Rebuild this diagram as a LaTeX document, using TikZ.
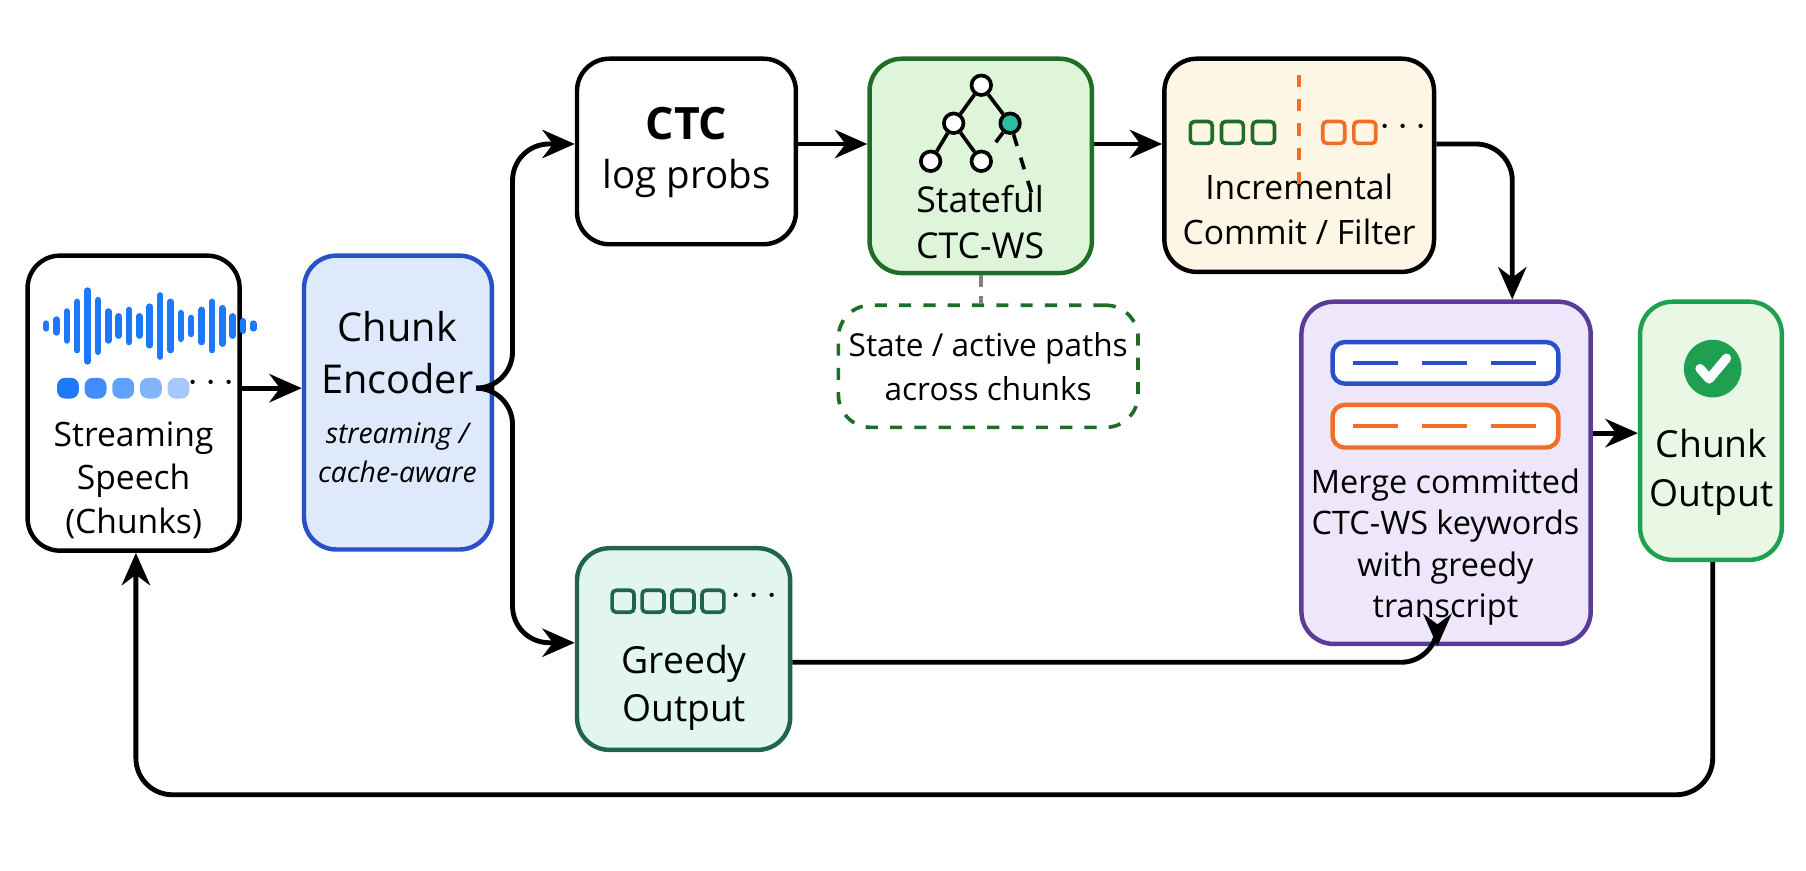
\documentclass[tikz,border=0pt]{standalone}
\usepackage{fontspec}
\setmainfont{Open Sans}
\usetikzlibrary{positioning,arrows.meta}

\definecolor{encblue}{RGB}{222,234,252}
\definecolor{encline}{RGB}{40,80,200}
\definecolor{wsgreen}{RGB}{222,245,218}
\definecolor{wsline}{RGB}{30,110,40}
\definecolor{cream}{RGB}{253,246,228}
\definecolor{lav}{RGB}{238,230,250}
\definecolor{lavline}{RGB}{90,60,150}
\definecolor{mint}{RGB}{226,245,238}
\definecolor{mintline}{RGB}{30,100,80}
\definecolor{outgreen}{RGB}{232,248,228}
\definecolor{wave}{RGB}{30,120,250}
\definecolor{korange}{RGB}{240,110,40}
\definecolor{teal}{RGB}{40,190,160}
\definecolor{chk}{RGB}{30,160,80}

\begin{document}
\begin{tikzpicture}[x=0.01cm,y=-0.01cm,
    box/.style={draw=black,line width=1.1pt,rounded corners=8pt,fill=white,align=center,inner sep=0pt},
    flow/.style={-{Stealth[length=8pt,width=7pt]},line width=1.2pt,rounded corners=9pt},
    txt/.style={font=\fontsize{8.5}{11}\selectfont,align=center},
    tiny sq/.style={draw,line width=0.9pt,rounded corners=1pt,minimum size=0.19cm,inner sep=0pt}
  ]
  \useasboundingbox (0,0) rectangle (1568,756);

  % boxes
  \node[box,minimum width=1.84cm,minimum height=2.56cm] (speech) at (116,350) {};
  \node[box,draw=encline,fill=encblue,minimum width=1.63cm,minimum height=2.55cm] (enc) at (345.5,349.5) {};
  \node[box,minimum width=1.90cm,minimum height=1.61cm] (ctc) at (596,131.5) {};
  \node[box,draw=wsline,fill=wsgreen,minimum width=1.93cm,minimum height=1.86cm] (ws) at (851.5,144) {};
  \node[box,fill=cream,minimum width=2.34cm,minimum height=1.85cm] (inc) at (1128,143.5) {};
  \node[box,draw=wsline,dashed,line width=0.9pt,fill=white,minimum width=2.60cm,minimum height=1.06cm] (state) at (858,318) {};
  \node[box,draw=lavline,fill=lav,minimum width=2.51cm,minimum height=2.97cm] (merge) at (1255.5,410.5) {};
  \node[box,draw=chk,fill=outgreen,minimum width=1.23cm,minimum height=2.24cm] (out) at (1485.5,374) {};
  \node[box,draw=mintline,fill=mint,minimum width=1.85cm,minimum height=1.75cm] (greedy) at (593.5,563.5) {};

  % texts
  \node[txt,font=\fontsize{8.3}{10.8}\selectfont] (speechlbl) at (116,417) {Streaming\\Speech\\(Chunks)};
  \node[txt,font=\fontsize{9.8}{12.8}\selectfont] (enclbl) at (345,306) {Chunk\\Encoder};
  \node[txt,font=\fontsize{7}{9.5}\selectfont\itshape] (encsub) at (345,393) {streaming /\\cache-aware};
  \node[txt,font=\fontsize{11}{13}\selectfont\bfseries] (ctclbl) at (596,107) {CTC};
  \node[txt,font=\fontsize{9.5}{12}\selectfont] (ctcsub) at (596,155) {log probs};
  \node[txt,font=\fontsize{8.8}{11.3}\selectfont] (wslbl) at (851,193) {Stateful\\CTC-WS};
  \node[txt,font=\fontsize{8.3}{11}\selectfont] (inclbl) at (1128,182) {Incremental\\Commit / Filter};
  \node[txt,font=\fontsize{7.8}{10.8}\selectfont] (statelbl) at (858,318) {State / active paths\\across chunks};
  \node[txt,font=\fontsize{8}{10.2}\selectfont] (mergelbl) at (1255,475) {Merge committed\\CTC-WS keywords\\with greedy\\transcript};
  \node[txt,font=\fontsize{9.2}{12}\selectfont] (outlbl) at (1486,410) {Chunk\\Output};
  \node[txt,font=\fontsize{9.2}{12}\selectfont] (greedylbl) at (594,597) {Greedy\\Output};

  % waveform
  \foreach \x/\h in {0/3,9/8,18/18,27/30,36/44,45/32,54/18,63/12,72/20,81/12,90/24,99/38,108/30,117/16,126/10,135/20,144/30,153/22,162/12,171/6,180/3}
    \draw[wave,line width=1.6pt,line cap=round] (40+\x,283-\h*0.7) -- (40+\x,283+\h*0.7);
  % chunk blocks
  \foreach \i/\c in {0/100,1/85,2/70,3/55,4/40}
    \node[fill=wave!\c!white,rounded corners=2pt,minimum width=0.19cm,minimum height=0.18cm,inner sep=0pt] (blk\i) at (59+\i*24,337) {};
  \node[font=\bfseries] (blkdots) at (183,333) {$\cdots$};

  % search tree icon
  \node[circle,draw,line width=0.9pt,fill=white,minimum size=0.17cm,inner sep=0pt] (t0) at (852,74) {};
  \node[circle,draw,line width=0.9pt,fill=white,minimum size=0.17cm,inner sep=0pt] (t1) at (828,107) {};
  \node[circle,draw,line width=0.9pt,fill=teal,minimum size=0.17cm,inner sep=0pt] (t2) at (877,107) {};
  \node[circle,draw,line width=0.9pt,fill=white,minimum size=0.17cm,inner sep=0pt] (t3) at (808,140) {};
  \node[circle,draw,line width=0.9pt,fill=white,minimum size=0.17cm,inner sep=0pt] (t4) at (852,140) {};
  \coordinate (tend) at (897,172);
  \draw[line width=0.9pt] (t0) -- (t1) (t0) -- (t2) (t1) -- (t3) (t1) -- (t4);
  \draw[line width=0.9pt,dashed] (t2) -- (t4) (t2) -- (tend);

  % incremental icon
  \foreach \i in {0,1,2}
    \node[tiny sq,draw=wsline] (ig\i) at (1043+\i*27,115) {};
  \foreach \i in {0,1}
    \node[tiny sq,draw=korange] (io\i) at (1158+\i*27,115) {};
  \node[font=\bfseries] (idots) at (1218,111) {$\cdots$};
  \coordinate (cuttop) at (1128,65);
  \coordinate (cutbot) at (1128,160);
  \draw[korange,dashed,line width=0.9pt] (cuttop) -- (cutbot);

  % merge icon
  \node[draw=encline,line width=1.1pt,fill=white,rounded corners=3pt,minimum width=1.96cm,minimum height=0.36cm] (mblue) at (1255,315) {};
  \node[draw=korange,line width=1.1pt,fill=white,rounded corners=3pt,minimum width=1.96cm,minimum height=0.37cm] (morange) at (1255,370) {};
  \draw[encline,dash pattern=on 11pt off 6pt,line width=1.1pt] ([xshift=0.2cm]mblue.west) -- ([xshift=-0.2cm]mblue.east);
  \draw[korange,dash pattern=on 11pt off 6pt,line width=1.1pt] ([xshift=0.2cm]morange.west) -- ([xshift=-0.2cm]morange.east);

  % check icon
  \node[circle,fill=chk,minimum size=0.5cm,inner sep=0pt] (check) at (1487,320) {};
  \draw[white,line width=2.3pt,line cap=round,line join=round] (1476,320) -- (1484,329) -- (1499,311);

  % greedy icon
  \foreach \i in {0,1,2,3}
    \node[tiny sq,draw=mintline] (gq\i) at (541+\i*26,522) {};
  \node[font=\bfseries] (gdots) at (655,518) {$\cdots$};

  % connectors
  \draw[flow] (speech.east |- 0,337) -- (enc.west |- 0,337);
  \draw[flow] (enc.east |- 0,337) -| (445,125) -- (ctc.west |- 0,125);
  \draw[flow] (enc.east |- 0,337) -| (445,558) -- (greedy.west |- 0,558);
  \draw[flow] (ctc.east |- 0,125) -- (ws.west |- 0,125);
  \draw[flow] (ws.east |- 0,125) -- (inc.west |- 0,125);
  \draw[flow] (inc.east |- 0,125) -| (merge.north -| 1313,0);
  \draw[flow] (greedy.east |- 0,575) -| (merge.south -| 1248,0);
  \draw[flow] (merge.east |- 0,376) -- (out.west |- 0,376);
  \draw[flow] (out.south -| 1487,0) |- (300,690) -| (speech.south -| 118,0);
  \draw[densely dashed,gray,line width=0.9pt] (ws.south) -- (state.north -| ws.south);
\end{tikzpicture}
\end{document}
